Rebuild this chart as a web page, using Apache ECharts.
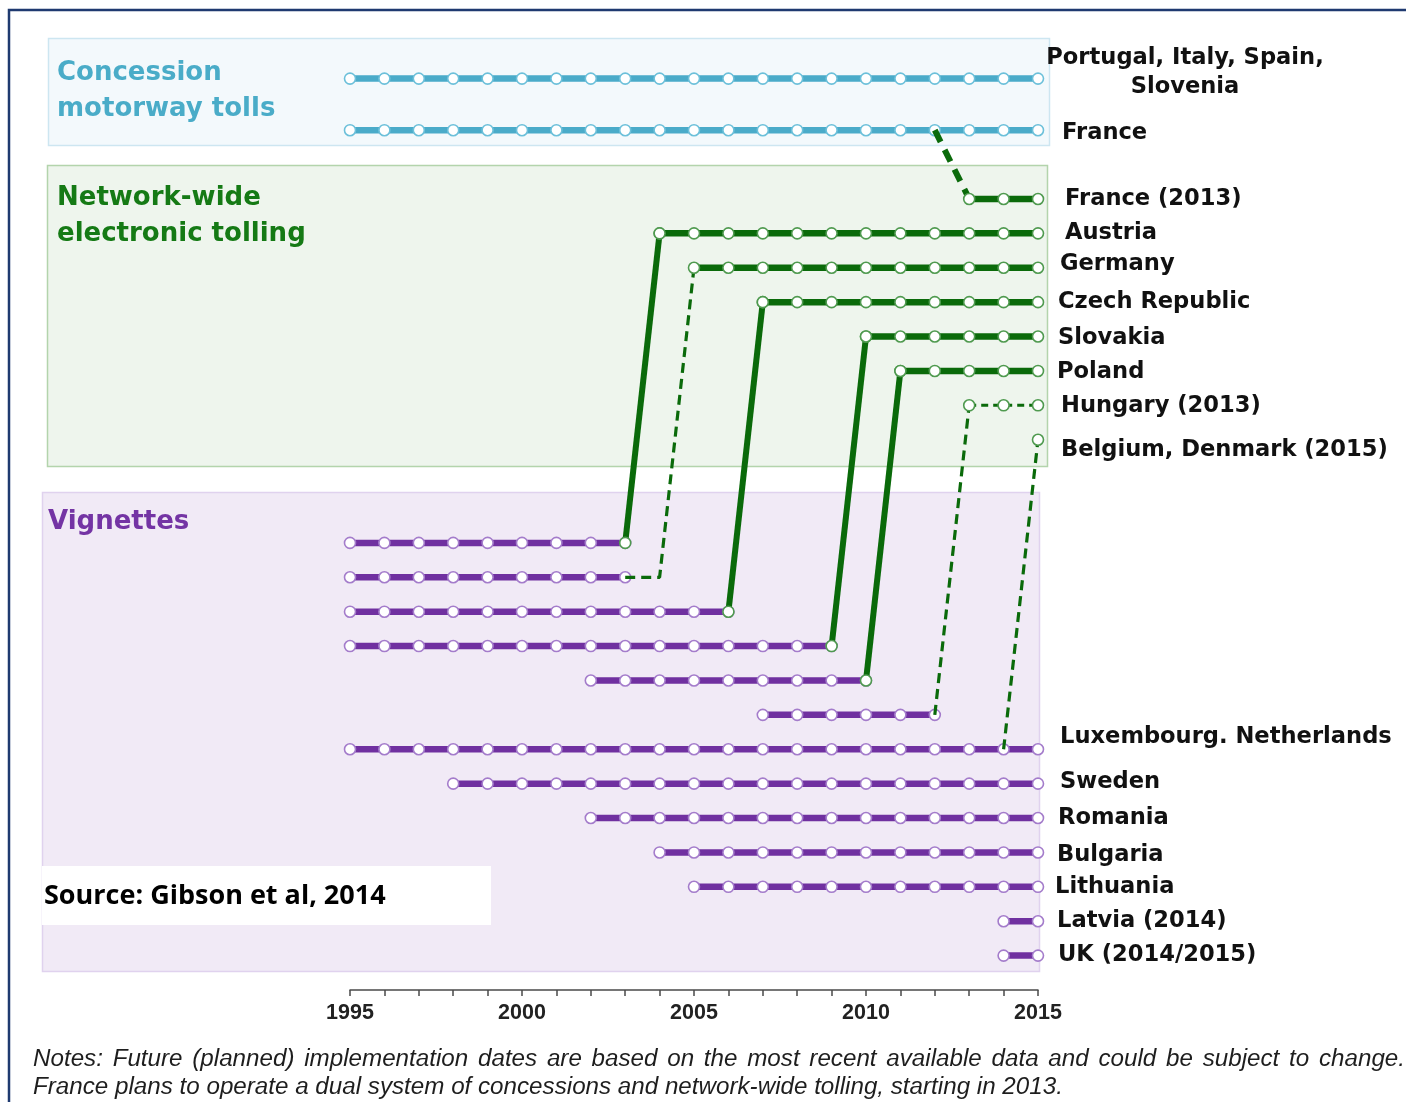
<!DOCTYPE html>
<html><head><meta charset="utf-8">
<script src="https://cdn.jsdelivr.net/npm/echarts@6/dist/echarts.min.js"></script>
<style>html,body{margin:0;padding:0;background:#fff}#c{width:1406px;height:1102px}</style>
</head><body><div id="c"></div>
<script>
// ---------------- data ----------------
const concessionNames = ['Portugal, Italy, Spain,\nSlovenia', 'France'];
const concessionStart = [1995, 1995];
const concessionEnd   = [2015, 2015];
const concessionRow   = [-3.5, -2];

const nwetNames   = ['France (2013)', 'Austria', 'Germany', 'Czech Republic', 'Slovakia', 'Poland', 'Hungary (2013)', 'Belgium, Denmark (2015)'];
const nwetStart   = [2013, 2004, 2005, 2007, 2010, 2011, 2013, 2015];
const nwetEnd     = [2015, 2015, 2015, 2015, 2015, 2015, 2015, 2015];
const nwetPlanned = [false, false, false, false, false, false, true, true];
const nwetRow     = [0, 1, 2, 3, 4, 5, 6, 7];

const vignetteNames = ['', '', '', '', '', '', 'Luxembourg. Netherlands', 'Sweden', 'Romania', 'Bulgaria', 'Lithuania', 'Latvia (2014)', 'UK (2014/2015)'];
const vignetteStart = [1995, 1995, 1995, 1995, 2002, 2007, 1995, 1998, 2002, 2004, 2005, 2014, 2014];
const vignetteEnd   = [2003, 2003, 2006, 2009, 2010, 2012, 2015, 2015, 2015, 2015, 2015, 2015, 2015];
const vignetteRow   = [10, 11, 12, 13, 14, 15, 16, 17, 18, 19, 20, 21, 22];

const switchFromYear = [2012, 2003, 2003, 2006, 2009, 2010, 2012, 2014];
const switchFromRow  = [-2, 10, 11, 12, 13, 14, 15, 16];
const switchViaYear  = [null, null, 2004, null, null, null, null, null];
const switchToYear   = [2013, 2004, 2005, 2007, 2010, 2011, 2013, 2015];
const switchToRow    = [0, 1, 2, 3, 4, 5, 6, 7];
const switchPlanned  = [true, false, true, false, false, false, true, true];

const xTickLabels = [1995, 2000, 2005, 2010, 2015];

const headingConcession = ['Concession', 'motorway tolls'];
const headingNwet = ['Network-wide', 'electronic tolling'];
const headingVignette = ['Vignettes'];
const sourceText = 'Source: Gibson et al, 2014';
const notesLines = [
  'Notes: Future (planned) implementation dates are based on the most recent available data and could be subject to change.',
  'France plans to operate a dual system of concessions and network-wide tolling, starting in 2013.'
];

// ---------------- styles / layout ----------------
const BLUE = '#4aabc9', BLUE_M = '#6cc0da';
const GREEN = '#0a6a0a', GREEN_M = '#4f9a4f';
const PURPLE = '#7030a0', PURPLE_M = '#a47ccb';
const LABEL_FONT = 'DejaVu Sans';
const labelNudge = {
  'Portugal, Italy, Spain,\nSlovenia': [147, -6],
  'France': [24, 3], 'France (2013)': [27, 0], 'Austria': [27, 0], 'Germany': [22, -4],
  'Czech Republic': [20, 0], 'Slovakia': [20, 2], 'Poland': [19, 1], 'Hungary (2013)': [23, 1],
  'Belgium, Denmark (2015)': [23, 10], 'Luxembourg. Netherlands': [22, -12], 'Sweden': [22, -2],
  'Romania': [20, 0], 'Bulgaria': [19, 3], 'Lithuania': [17, 0], 'Latvia (2014)': [19, 0], 'UK (2014/2015)': [20, 0]
};

function yearPoints(s, e, row) {
  const pts = [];
  for (let y = s; y <= e; y++) pts.push([y, row]);
  return pts;
}

const series = [];
function rowSeries(s, e, row, color, mcolor, z, dashed) {
  series.push({
    type: 'line', data: yearPoints(s, e, row), z: z, silent: true,
    symbol: 'circle', symbolSize: 11, showSymbol: true,
    itemStyle: { color: '#fff', borderColor: mcolor, borderWidth: 1.6 },
    lineStyle: { color: color, width: dashed ? 3 : 6.5, type: dashed ? [7, 5] : 'solid' },
    emphasis: { disabled: true }
  });
}
concessionRow.forEach((r, i) => rowSeries(concessionStart[i], concessionEnd[i], r, BLUE, BLUE_M, 2, false));
vignetteRow.forEach((r, i) => rowSeries(vignetteStart[i], vignetteEnd[i], r, PURPLE, PURPLE_M, 2, false));
nwetRow.forEach((r, i) => rowSeries(nwetStart[i], nwetEnd[i], r, GREEN, GREEN_M, 5, nwetPlanned[i]));

switchFromYear.forEach((fy, i) => {
  const pts = [[fy, switchFromRow[i]]];
  if (switchViaYear[i] != null) pts.push([switchViaYear[i], switchFromRow[i]]);
  pts.push([switchToYear[i], switchToRow[i]]);
  const fromConcession = concessionRow.includes(switchFromRow[i]);
  const planned = switchPlanned[i];
  series.push({
    type: 'line', data: pts, z: 4, silent: true,
    symbol: planned ? 'none' : 'circle', symbolSize: 11,
    itemStyle: { color: '#fff', borderColor: GREEN_M, borderWidth: 1.6 },
    lineStyle: { color: GREEN, width: planned ? (fromConcession ? 6 : 3.2) : 6,
      type: planned ? (fromConcession ? [13, 9] : [10, 6]) : 'solid' },
    emphasis: { disabled: true }
  });
});

// labels at the right
const labelData = [];
function pushLabels(names, rows) {
  names.forEach((n, i) => {
    if (!n) return;
    const nd = labelNudge[n] || [20, 0];
    const item = { value: [2015, rows[i]], name: n, label: { offset: nd } };
    if (n.indexOf('\n') >= 0) { item.label.align = 'center'; item.label.lineHeight = 29; }
    labelData.push(item);
  });
}
pushLabels(concessionNames, concessionRow);
pushLabels(nwetNames, nwetRow);
pushLabels(vignetteNames, vignetteRow);
series.push({
  type: 'scatter', data: labelData, symbolSize: 0, z: 6, silent: true,
  itemStyle: { opacity: 1 },
  label: { show: true, position: 'right', distance: 0, formatter: '{b}',
    fontFamily: LABEL_FONT, fontWeight: 'bold', fontSize: 22.6, color: '#111' }
});

// notes, justified first line
function notesGraphic() {
  const els = [];
  const size = 24.2;
  const ctx = document.createElement('canvas').getContext('2d');
  ctx.font = 'italic ' + size + 'px "Liberation Sans"';
  const ys = [1059, 1087];
  notesLines.forEach((line, li) => {
    const words = line.split(' ');
    const widths = words.map(w => ctx.measureText(w).width);
    const total = widths.reduce((a, b) => a + b, 0);
    const spaceW = ctx.measureText(' ').width;
    const gap = li === 0 ? (1405 - 33 - total) / (words.length - 1) : spaceW;
    let x = 33;
    words.forEach((w, i) => {
      els.push({ type: 'text', x: x, y: ys[li], z: 10,
        style: { text: w, fill: '#1e1e1e', fontFamily: 'Liberation Sans', fontStyle: 'italic', fontSize: size, verticalAlign: 'middle' } });
      x += widths[i] + gap;
    });
  });
  return els;
}

function headingText(lines, x, y0, dy, color) {
  return lines.map((t, i) => ({ type: 'text', x: x, y: y0 + i * dy, z: 1,
    style: { text: t, fill: color, fontFamily: LABEL_FONT, fontWeight: 'bold', fontSize: 26, verticalAlign: 'middle' } }));
}

const graphic = [
  { type: 'rect', shape: { x: 9, y: 10, width: 1420, height: 1120 }, z: 0,
    style: { fill: 'none', stroke: '#1f3a70', lineWidth: 2.5 } },
  { type: 'rect', shape: { x: 48.5, y: 38.5, width: 1001, height: 107 }, z: 0,
    style: { fill: '#f3f9fc', stroke: '#cde6f1', lineWidth: 1.5 } },
  { type: 'rect', shape: { x: 47.5, y: 165.5, width: 1000, height: 301 }, z: 0,
    style: { fill: '#eef5ed', stroke: '#b3d4ac', lineWidth: 1.5 } },
  { type: 'rect', shape: { x: 42.5, y: 492.5, width: 997, height: 479 }, z: 0,
    style: { fill: '#f1eaf6', stroke: '#e0d2ee', lineWidth: 1.5 } },
  { type: 'rect', shape: { x: 42, y: 866, width: 449, height: 59 }, z: 1,
    style: { fill: '#ffffff' } },
  { type: 'text', x: 44, y: 896, z: 2,
    style: { text: sourceText, fill: '#000', fontFamily: 'Open Sans', fontWeight: 'bold', fontSize: 27, verticalAlign: 'middle' } }
].concat(headingText(headingConcession, 57, 73, 36, '#4aacc8'))
 .concat(headingText(headingNwet, 57, 198, 36, '#157a15'))
 .concat(headingText(headingVignette, 48, 522, 36, '#7434a4'))
 .concat(notesGraphic());

const chart = echarts.init(document.getElementById('c'), null, { renderer: 'canvas' });
chart.setOption({
  animation: false,
  backgroundColor: '#fff',
  grid: { left: 350, right: 368, top: 27, bottom: 112, containLabel: false },
  xAxis: {
    type: 'value', min: 1995, max: 2015, interval: 1,
    axisLine: { onZero: false, lineStyle: { color: '#4a4a4a', width: 1.5 } },
    axisTick: { length: 6, lineStyle: { color: '#4a4a4a', width: 1.5 } },
    splitLine: { show: false },
    axisLabel: { formatter: v => xTickLabels.includes(v) ? String(v) : '', margin: 12,
      showMinLabel: true, showMaxLabel: true,
      fontFamily: 'Liberation Sans', fontWeight: 'bold', fontSize: 21.5, color: '#222' }
  },
  yAxis: { type: 'value', inverse: true, min: -5, max: 23, show: false },
  graphic: graphic,
  series: series
});
</script></body></html>
